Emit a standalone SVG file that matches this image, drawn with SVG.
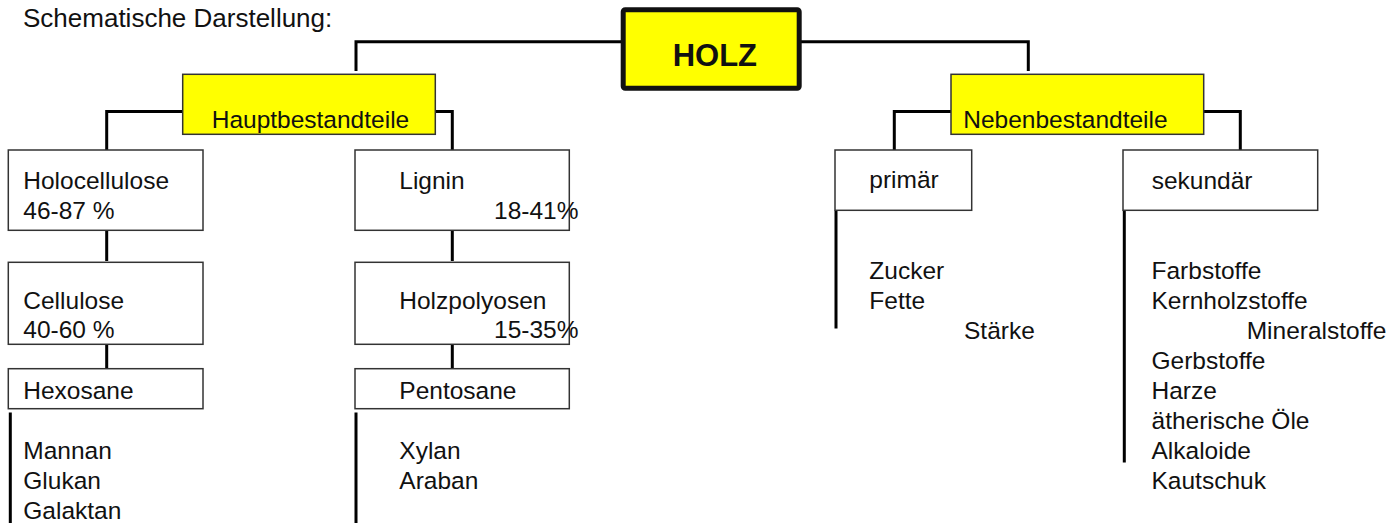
<svg xmlns="http://www.w3.org/2000/svg" width="1399" height="523" viewBox="0 0 1399 523">
<style>
text{font-family:"Liberation Sans",Arial,sans-serif;font-size:24.5px;fill:#111}
.title{font-size:26px}
.holz{font-size:31px;font-weight:bold}
.box{fill:#fff;stroke:#333;stroke-width:1.5}
.yel{fill:#ffff00;stroke:#333;stroke-width:1.5}
.conn{fill:none;stroke:#000;stroke-width:3}
</style>
<rect width="1399" height="523" fill="#fff"/>
<text class="title" x="23" y="27">Schematische Darstellung:</text>
<g id="connectors">
<path class="conn" d="M356 71V41.7H621M801 41.7H1028.3V71"/>
<path class="conn" d="M183 111.5H106.7V150"/>
<path class="conn" d="M432 111.5H452.3V150"/>
<path class="conn" d="M106.7 230.5V261M106.7 344.5V368.5"/>
<path class="conn" d="M452.3 230.5V261M452.3 344.5V368.5"/>
<path class="conn" d="M10.3 412.5V523M356 412.5V523"/>
<path class="conn" d="M951 111.5H894.3V150"/>
<path class="conn" d="M1199.3 111.5H1240.3V150"/>
<path class="conn" d="M836 210.5V328.5M1124.3 210.5V462.5"/>
</g>
<g id="holz">
<rect x="623.2" y="9.8" width="176" height="78.4" rx="2" fill="#ffff00" stroke="#111" stroke-width="5"/>
<text class="holz" x="672.7" y="65.7">HOLZ</text>
</g>
<g id="hauptbestandteile">
<rect class="yel" x="182.7" y="74.3" width="252.6" height="60"/>
<text x="211.7" y="127.7">Hauptbestandteile</text>
</g>
<g id="nebenbestandteile">
<rect class="yel" x="951" y="74.3" width="252.7" height="60"/>
<text x="963.3" y="127.7">Nebenbestandteile</text>
</g>
<g id="holocellulose">
<rect class="box" x="8.3" y="150" width="194.7" height="80.3"/>
<text x="23.3" y="189.3">Holocellulose</text>
<text x="23.3" y="218.7">46-87 %</text>
</g>
<g id="cellulose">
<rect class="box" x="8.3" y="262.3" width="194.7" height="82"/>
<text x="23.3" y="309.3">Cellulose</text>
<text x="23.3" y="338.3">40-60 %</text>
</g>
<g id="hexosane">
<rect class="box" x="8.3" y="368.7" width="194.7" height="40"/>
<text x="23.3" y="398.7">Hexosane</text>
</g>
<g id="hexosane-list">
<text x="23.3" y="459">Mannan</text>
<text x="23.3" y="489">Glukan</text>
<text x="23.3" y="519">Galaktan</text>
</g>
<g id="lignin">
<rect class="box" x="355" y="150" width="214.3" height="80.3"/>
<text x="399.3" y="189.3">Lignin</text>
<text x="494" y="218.7">18-41%</text>
</g>
<g id="holzpolyosen">
<rect class="box" x="355" y="262.3" width="214.3" height="82"/>
<text x="399.3" y="309.3">Holzpolyosen</text>
<text x="494" y="338.3">15-35%</text>
</g>
<g id="pentosane">
<rect class="box" x="355" y="368.7" width="214.3" height="40"/>
<text x="399.3" y="398.7">Pentosane</text>
</g>
<g id="pentosane-list">
<text x="399.3" y="459">Xylan</text>
<text x="399.3" y="489">Araban</text>
</g>
<g id="primaer">
<rect class="box" x="835" y="150" width="136.7" height="60.3"/>
<text x="869.3" y="188.3">primär</text>
</g>
<g id="primaer-list">
<text x="869.3" y="279.3">Zucker</text>
<text x="869.3" y="309">Fette</text>
<text x="964" y="339">Stärke</text>
</g>
<g id="sekundaer">
<rect class="box" x="1123" y="150" width="194.7" height="60.3"/>
<text x="1151.7" y="188.5">sekundär</text>
</g>
<g id="sekundaer-list">
<text x="1151.5" y="279">Farbstoffe</text>
<text x="1151.5" y="309">Kernholzstoffe</text>
<text x="1246.7" y="339">Mineralstoffe</text>
<text x="1151.5" y="369">Gerbstoffe</text>
<text x="1151.5" y="399">Harze</text>
<text x="1151.5" y="429">ätherische Öle</text>
<text x="1151.5" y="459">Alkaloide</text>
<text x="1151.5" y="489">Kautschuk</text>
</g>
</svg>
